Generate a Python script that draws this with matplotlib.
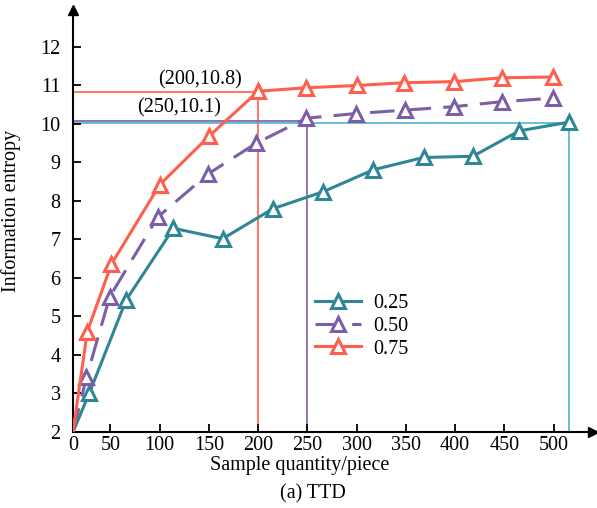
import numpy as np
import matplotlib
matplotlib.use('Agg')
from matplotlib import pyplot as plt

plt.rcParams['font.family'] = ['Liberation Serif', 'DejaVu Serif']
plt.rcParams['mathtext.fontset'] = 'stix'

# dados
x_025 = [0, 22, 66, 114, 164, 215, 266, 317, 368, 418, 465, 516]
y_025 = [2, 3.02, 5.43, 7.29, 7.02, 7.8, 8.24, 8.81, 9.13, 9.16, 9.82, 10.05]
x_050 = [0, 18, 49, 98, 149, 198, 249, 299, 349, 399, 448, 499]
y_050 = [2, 3.42, 5.51, 7.58, 8.7, 9.5, 10.15, 10.27, 10.36, 10.45, 10.58, 10.67]
x_075 = [0, 19, 51, 100, 150, 200, 249, 300, 348, 399, 448, 499]
y_075 = [2, 4.6, 6.36, 8.42, 9.68, 10.85, 10.94, 11.0, 11.07, 11.1, 11.2, 11.22]

labels = ['0.25', '0.50', '0.75']
colors = ['#2e8696', '#7b5ea7', '#fe5f4e']

# pontos destacados (x, y) e linha de referencia
ref_red = (200, 10.83)
ref_purple = (250, 10.07)
ref_cyan = (516, 10.02)
ann_red = '(200,10.8)'
ann_purple = '(250,10.1)'

xticks = [0, 50, 100, 150, 200, 250, 300, 350, 400, 450, 500]
yticks = list(range(2, 13))

# eixo x comprimido entre 0 e 50 (como no original)
def fwd(x):
  x = np.asarray(x, dtype=float)
  return np.where(x < 50, 12 + x * 38.0 / 50, x)

def inv(y):
  y = np.asarray(y, dtype=float)
  return np.where(y < 50, (y - 12) * 50.0 / 38, y)

fs = 14.5

fig = plt.figure(figsize=(5.97, 5.08), dpi=100)
ax = fig.add_axes([73/597, 1 - 432/508, (593-73)/597, (432-10)/508])
ax.set_xscale('function', functions=(fwd, inv))
ax.set_xlim(0, 540)
ax.set_ylim(2, 12.96)

# linhas de referencia
ax.plot([0, ref_red[0], ref_red[0]], [ref_red[1], ref_red[1], 2], color='#fe5f4e', lw=1.2, zorder=1)
ax.plot([0, ref_purple[0], ref_purple[0]], [ref_purple[1], ref_purple[1], 2], color='#7b5ea7', lw=1.2, zorder=1)
ax.plot([0, ref_cyan[0], ref_cyan[0]], [ref_cyan[1], ref_cyan[1], 2], color='#4bb3d0', lw=1.2, zorder=1)

series = [(x_025, y_025, '-'), (x_050, y_050, (0, (8, 4))), (x_075, y_075, '-')]
for (xs, ys, ls), lab, c in zip(series, labels, colors):
  ax.plot(xs, ys, linestyle=ls, color=c, lw=2.2, marker='^', markersize=10,
          markerfacecolor='white', markeredgecolor=c, markeredgewidth=2.2,
          markevery=list(range(1, len(xs))), label=lab, zorder=3)

ax.text(141, 10.9, ann_red, fontsize=fs, ha='center', va='bottom')
ax.text(120, 10.16, ann_purple, fontsize=fs, ha='center', va='bottom')

ax.spines['top'].set_visible(False)
ax.spines['right'].set_visible(False)
ax.spines['left'].set_linewidth(1.5)
ax.spines['bottom'].set_linewidth(1.5)
ax.plot(1, 2, '>k', markersize=7, transform=ax.get_yaxis_transform(), clip_on=False)
ax.plot(0, 1, '^k', markersize=7, transform=ax.get_xaxis_transform(), clip_on=False)

ax.set_xticks(xticks)
ax.set_xticklabels([str(t) for t in xticks])
ax.set_yticks(yticks)
ax.tick_params(direction='in', length=6, width=1.3, labelsize=fs)
ax.tick_params(axis='y', pad=9)
ax.tick_params(axis='x', pad=3)
ax.set_xlabel('Sample quantity/piece', fontsize=fs, labelpad=0)
ax.xaxis.set_label_coords((300 - 73) / 520, -0.058)
ax.set_ylabel('Information entropy', fontsize=fs)
ax.yaxis.set_label_coords(-0.1, 0.524)

ax.legend(loc='upper left', bbox_to_anchor=(0.43, 0.37), frameon=False, fontsize=fs,
          handlelength=2.3, handletextpad=0.6, labelspacing=0.18)

fig.text(313/597, 1 - 494/508, '(a) TTD', fontsize=fs, ha='center', va='center')

plt.savefig('out.png', dpi=100)
plt.close()
